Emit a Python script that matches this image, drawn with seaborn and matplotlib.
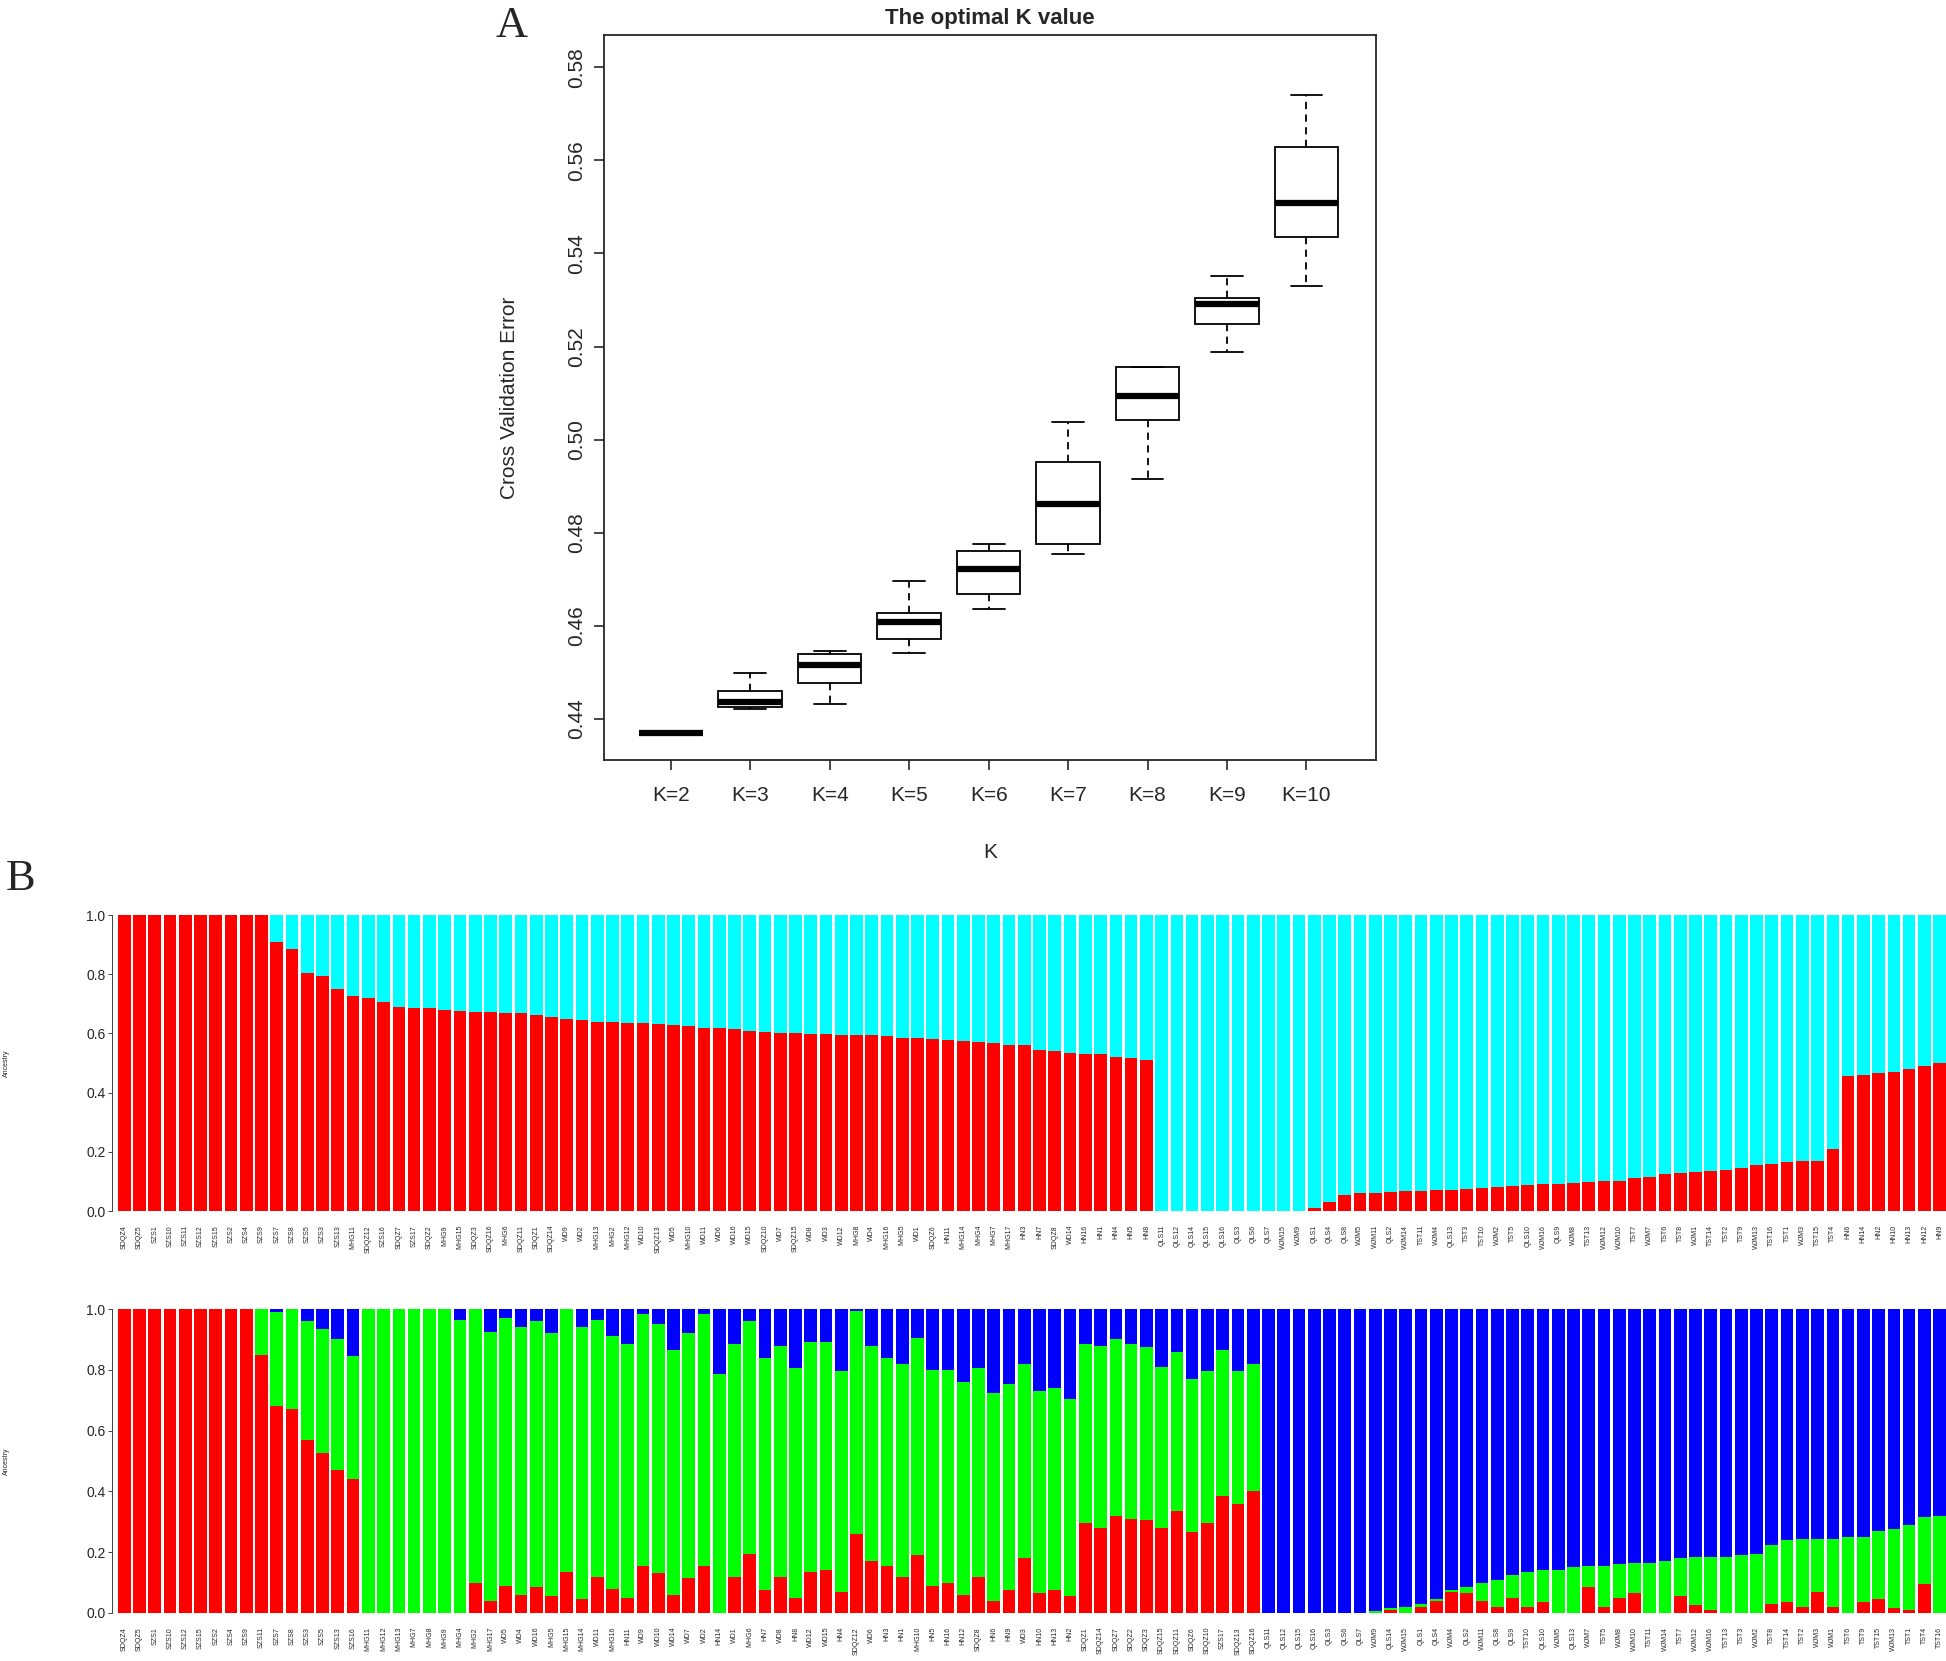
import numpy as np
import pandas as pd
import matplotlib
matplotlib.use('Agg')
import matplotlib.pyplot as plt
import seaborn as sns

sns.set_style('ticks')
plt.rcParams['font.family'] = ['Liberation Sans', 'DejaVu Sans']

# ---- panel A: cross validation error per K (five-number summaries) ----
k_labels = ['K=2', 'K=3', 'K=4', 'K=5', 'K=6', 'K=7', 'K=8', 'K=9', 'K=10']
cv_min = [0.4371, 0.4421, 0.4432, 0.4541, 0.4637, 0.4755, 0.4915, 0.5189, 0.5331]
cv_q1 = [0.4371, 0.4427, 0.4477, 0.4571, 0.4669, 0.4776, 0.5043, 0.5248, 0.5435]
cv_med = [0.4371, 0.4437, 0.4517, 0.4608, 0.4723, 0.4861, 0.5093, 0.5291, 0.5509]
cv_q3 = [0.4371, 0.4461, 0.4539, 0.4627, 0.4760, 0.4952, 0.5157, 0.5304, 0.5629]
cv_max = [0.4371, 0.4499, 0.4547, 0.4696, 0.4776, 0.5037, 0.5157, 0.5352, 0.5741]

# ---- panel B, K=2 ----
k2_samples = ['SDQZ4', 'SDQZ5', 'SZS1', 'SZS10', 'SZS11', 'SZS12', 'SZS15', 'SZS2', 'SZS4', 'SZS9',
              'SZS7', 'SZS8', 'SZS5', 'SZS3', 'SZS13', 'MHG11', 'SDQZ12', 'SZS16', 'SDQZ7', 'SZS17',
              'SDQZ2', 'MHG9', 'MHG15', 'SDQZ3', 'SDQZ16', 'MHG6', 'SDQZ11', 'SDQZ1', 'SDQZ14', 'WD9',
              'WD2', 'MHG13', 'MHG2', 'MHG12', 'WD10', 'SDQZ13', 'WD5', 'MHG10', 'WD11', 'WD6',
              'WD16', 'WD15', 'SDQZ10', 'WD7', 'SDQZ15', 'WD8', 'WD3', 'WD12', 'MHG8', 'WD4',
              'MHG16', 'MHG5', 'WD1', 'SDQZ6', 'HN11', 'MHG14', 'MHG4', 'MHG7', 'MHG17', 'HN3',
              'HN7', 'SDQZ8', 'WD14', 'HN16', 'HN1', 'HN4', 'HN5', 'HN8', 'QLS11', 'QLS12',
              'QLS14', 'QLS15', 'QLS16', 'QLS3', 'QLS6', 'QLS7', 'WJM15', 'WJM9', 'QLS1', 'QLS4',
              'QLS8', 'WJM5', 'WJM11', 'QLS2', 'WJM14', 'TST11', 'WJM4', 'QLS13', 'TST3', 'TST10',
              'WJM2', 'TST5', 'QLS10', 'WJM16', 'QLS9', 'WJM8', 'TST13', 'WJM12', 'WJM10', 'TST7',
              'WJM7', 'TST6', 'TST8', 'WJM1', 'TST14', 'TST2', 'TST9', 'WJM13', 'TST16', 'TST1',
              'WJM3', 'TST15', 'TST4', 'HN6', 'HN14', 'HN2', 'HN10', 'HN13', 'HN12', 'HN9']
k2_red = [1, 1, 1, 1, 1, 1, 1, 1, 1, 1,
          0.91, 0.885, 0.805, 0.795, 0.75, 0.725, 0.72, 0.705, 0.69, 0.685,
          0.685, 0.68, 0.675, 0.673, 0.672, 0.67, 0.67, 0.663, 0.655, 0.648,
          0.645, 0.64, 0.638, 0.636, 0.635, 0.633, 0.63, 0.625, 0.62, 0.62,
          0.615, 0.607, 0.605, 0.603, 0.60, 0.598, 0.597, 0.596, 0.595, 0.594,
          0.59, 0.585, 0.583, 0.58, 0.578, 0.575, 0.57, 0.567, 0.562, 0.56,
          0.545, 0.542, 0.533, 0.532, 0.53, 0.522, 0.517, 0.51, 0, 0,
          0, 0, 0, 0, 0, 0, 0, 0, 0.01, 0.03,
          0.055, 0.06, 0.062, 0.065, 0.066, 0.068, 0.07, 0.072, 0.075, 0.078,
          0.082, 0.085, 0.088, 0.09, 0.093, 0.095, 0.097, 0.10, 0.102, 0.11,
          0.115, 0.125, 0.13, 0.133, 0.135, 0.14, 0.145, 0.155, 0.16, 0.165,
          0.168, 0.17, 0.21, 0.455, 0.46, 0.465, 0.47, 0.48, 0.49, 0.50]

# ---- panel B, K=3 ----
k3_samples = ['SDQZ4', 'SDQZ5', 'SZS1', 'SZS10', 'SZS12', 'SZS15', 'SZS2', 'SZS4', 'SZS9', 'SZS11',
              'SZS7', 'SZS8', 'SZS3', 'SZS5', 'SZS13', 'SZS16', 'MHG11', 'MHG12', 'MHG13', 'MHG7',
              'MHG8', 'MHG9', 'MHG4', 'MHG2', 'MHG17', 'WD5', 'WD4', 'WD16', 'MHG5', 'MHG15',
              'MHG14', 'WD11', 'MHG16', 'HN11', 'WD9', 'WD10', 'WD14', 'WD7', 'WD2', 'HN14',
              'WD1', 'MHG6', 'HN7', 'WD8', 'HN8', 'WD12', 'WD15', 'HN4', 'SDQZ12', 'WD6',
              'HN3', 'HN1', 'MHG10', 'HN5', 'HN16', 'HN12', 'SDQZ8', 'HN6', 'HN9', 'WD3',
              'HN10', 'HN13', 'HN2', 'SDQZ1', 'SDQZ14', 'SDQZ7', 'SDQZ2', 'SDQZ3', 'SDQZ15', 'SDQZ11',
              'SDQZ6', 'SDQZ10', 'SZS17', 'SDQZ13', 'SDQZ16', 'QLS11', 'QLS12', 'QLS15', 'QLS16', 'QLS3',
              'QLS6', 'QLS7', 'WJM9', 'QLS14', 'WJM15', 'QLS1', 'QLS4', 'WJM4', 'QLS2', 'WJM11',
              'QLS8', 'QLS9', 'TST10', 'QLS10', 'WJM5', 'QLS13', 'WJM7', 'TST5', 'WJM8', 'WJM10',
              'TST11', 'WJM14', 'TST7', 'WJM12', 'WJM16', 'TST13', 'TST3', 'WJM2', 'TST8', 'TST14',
              'TST2', 'WJM3', 'WJM1', 'TST6', 'TST9', 'TST15', 'WJM13', 'TST1', 'TST4', 'TST16']
k3_red = [1, 1, 1, 1, 1, 1, 1, 1, 1, 0.85,
          0.68, 0.67, 0.57, 0.525, 0.47, 0.44, 0, 0, 0, 0,
          0, 0, 0, 0.10, 0.04, 0.09, 0.06, 0.085, 0.055, 0.135,
          0.045, 0.12, 0.08, 0.05, 0.155, 0.13, 0.06, 0.115, 0.155, 0,
          0.12, 0.195, 0.075, 0.12, 0.05, 0.135, 0.14, 0.07, 0.26, 0.17,
          0.155, 0.12, 0.19, 0.09, 0.10, 0.06, 0.12, 0.04, 0.075, 0.18,
          0.065, 0.075, 0.055, 0.295, 0.28, 0.32, 0.31, 0.305, 0.28, 0.335,
          0.265, 0.295, 0.385, 0.36, 0.40, 0, 0, 0, 0, 0,
          0, 0, 0, 0.01, 0, 0.02, 0.04, 0.07, 0.065, 0.04,
          0.02, 0.05, 0.02, 0.035, 0, 0, 0.085, 0.02, 0.05, 0.065,
          0, 0, 0.055, 0.025, 0.01, 0, 0, 0, 0.03, 0.035,
          0.02, 0.07, 0.02, 0, 0.035, 0.045, 0.015, 0.01, 0.095, 0]
k3_green = [0, 0, 0, 0, 0, 0, 0, 0, 0, 0.15,
            0.31, 0.33, 0.39, 0.41, 0.43, 0.405, 1, 1, 1, 1,
            1, 1, 0.965, 0.90, 0.885, 0.88, 0.88, 0.875, 0.865, 0.865,
            0.895, 0.845, 0.83, 0.835, 0.83, 0.82, 0.805, 0.805, 0.83, 0.785,
            0.765, 0.765, 0.765, 0.76, 0.755, 0.755, 0.75, 0.725, 0.735, 0.71,
            0.685, 0.70, 0.715, 0.71, 0.70, 0.70, 0.685, 0.685, 0.68, 0.64,
            0.665, 0.665, 0.65, 0.59, 0.60, 0.58, 0.575, 0.57, 0.53, 0.525,
            0.505, 0.50, 0.48, 0.435, 0.42, 0, 0, 0, 0, 0,
            0, 0, 0.005, 0.005, 0.02, 0.01, 0.005, 0.005, 0.02, 0.06,
            0.09, 0.075, 0.115, 0.105, 0.14, 0.15, 0.07, 0.135, 0.11, 0.10,
            0.165, 0.17, 0.125, 0.16, 0.175, 0.185, 0.19, 0.195, 0.195, 0.205,
            0.225, 0.175, 0.225, 0.25, 0.215, 0.225, 0.26, 0.28, 0.22, 0.32]

ancestry_ticks = [0.0, 0.2, 0.4, 0.6, 0.8, 1.0]

RED, CYAN, GREEN, BLUE = '#FF0000', '#00FFFF', '#00FF00', '#0000FF'
BAR_W = 0.833

fig = plt.figure(figsize=(19.46, 16.61), dpi=100)

# ---------------- panel A ----------------
axA = fig.add_axes([0.3104, 0.5424, 0.3967, 0.4365])
cv = pd.DataFrame({
    'K': np.repeat(k_labels, 5),
    'err': np.column_stack([cv_min, cv_q1, cv_med, cv_q3, cv_max]).ravel(),
})
sns.boxplot(data=cv, x='K', y='err', order=k_labels, whis=(0, 100), width=0.8,
            color='white', linecolor='black', linewidth=1.3, saturation=1,
            showfliers=False, whiskerprops={'linestyle': (0, (4, 3))},
            medianprops={'linewidth': 4.5}, ax=axA)
axA.set_xlim(-0.84, 8.875)
axA.set_ylim(0.4312, 0.5869)
yt = [0.44, 0.46, 0.48, 0.50, 0.52, 0.54, 0.56, 0.58]
axA.set_yticks(yt)
axA.set_yticklabels([f'{v:.2f}' for v in yt], rotation=90, va='center', fontsize=15)
axA.tick_params(axis='x', labelsize=15, length=7, pad=12, width=1.2)
axA.tick_params(axis='y', length=7, pad=6, width=1.2)
for s in axA.spines.values():
    s.set_linewidth(1.3)
axA.set_title('The optimal K value', fontweight='bold', fontsize=16, pad=8)
axA.set_xlabel('K', fontsize=15)
axA.set_ylabel('Cross Validation Error', fontsize=15)
axA.xaxis.set_label_coords(0.5, -0.115)
axA.yaxis.set_label_coords(-0.110, 0.5)


def structure_panel(ax, names):
    ax.set_xlim(-BAR_W / 2, len(names) - 1 + BAR_W / 2)
    ax.set_ylim(0, 1)
    ax.set_xticks(range(len(names)))
    ax.set_xticklabels(names, rotation=90, fontsize=5)
    ax.tick_params(axis='x', length=0, pad=10)
    ax.set_yticks(ancestry_ticks)
    ax.set_yticklabels([f'{v:.1f}' for v in ancestry_ticks], fontsize=5)
    ax.tick_params(axis='y', length=3, width=0.6, pad=2)
    for side in ['top', 'right', 'bottom']:
        ax.spines[side].set_visible(False)
    ax.spines['left'].set_position(('outward', 4))
    ax.spines['left'].set_linewidth(0.6)
    ax.set_xlabel('')
    ax.set_ylabel('Ancestry', fontsize=5)
    ax.yaxis.set_label_coords(-0.059, 0.5)


# ---------------- panel B, K=2 ----------------
axB1 = fig.add_axes([0.0606, 0.2709, 0.9394, 0.1782])
k2_red = np.array(k2_red)
k2_cyan = 1 - k2_red
sns.barplot(x=k2_samples, y=k2_red + k2_cyan, color=CYAN, saturation=1, width=BAR_W,
            linewidth=0, errorbar=None, ax=axB1)
sns.barplot(x=k2_samples, y=k2_red, color=RED, saturation=1, width=BAR_W,
            linewidth=0, errorbar=None, ax=axB1)
structure_panel(axB1, k2_samples)

# ---------------- panel B, K=3 ----------------
axB2 = fig.add_axes([0.0606, 0.0289, 0.9394, 0.1830])
k3_red = np.array(k3_red)
k3_green = np.array(k3_green)
k3_blue = 1 - k3_red - k3_green
sns.barplot(x=k3_samples, y=k3_red + k3_green + k3_blue, color=BLUE, saturation=1, width=BAR_W,
            linewidth=0, errorbar=None, ax=axB2)
sns.barplot(x=k3_samples, y=k3_red + k3_green, color=GREEN, saturation=1, width=BAR_W,
            linewidth=0, errorbar=None, ax=axB2)
sns.barplot(x=k3_samples, y=k3_red, color=RED, saturation=1, width=BAR_W,
            linewidth=0, errorbar=None, ax=axB2)
structure_panel(axB2, k3_samples)

fig.text(0.2549, 0.9777, 'A', family=['Liberation Serif', 'DejaVu Serif'], fontsize=32,
         ha='left', va='baseline')
fig.text(0.003, 0.4642, 'B', family=['Liberation Serif', 'DejaVu Serif'], fontsize=32,
         ha='left', va='baseline')

fig.savefig('out.png', dpi=100)
